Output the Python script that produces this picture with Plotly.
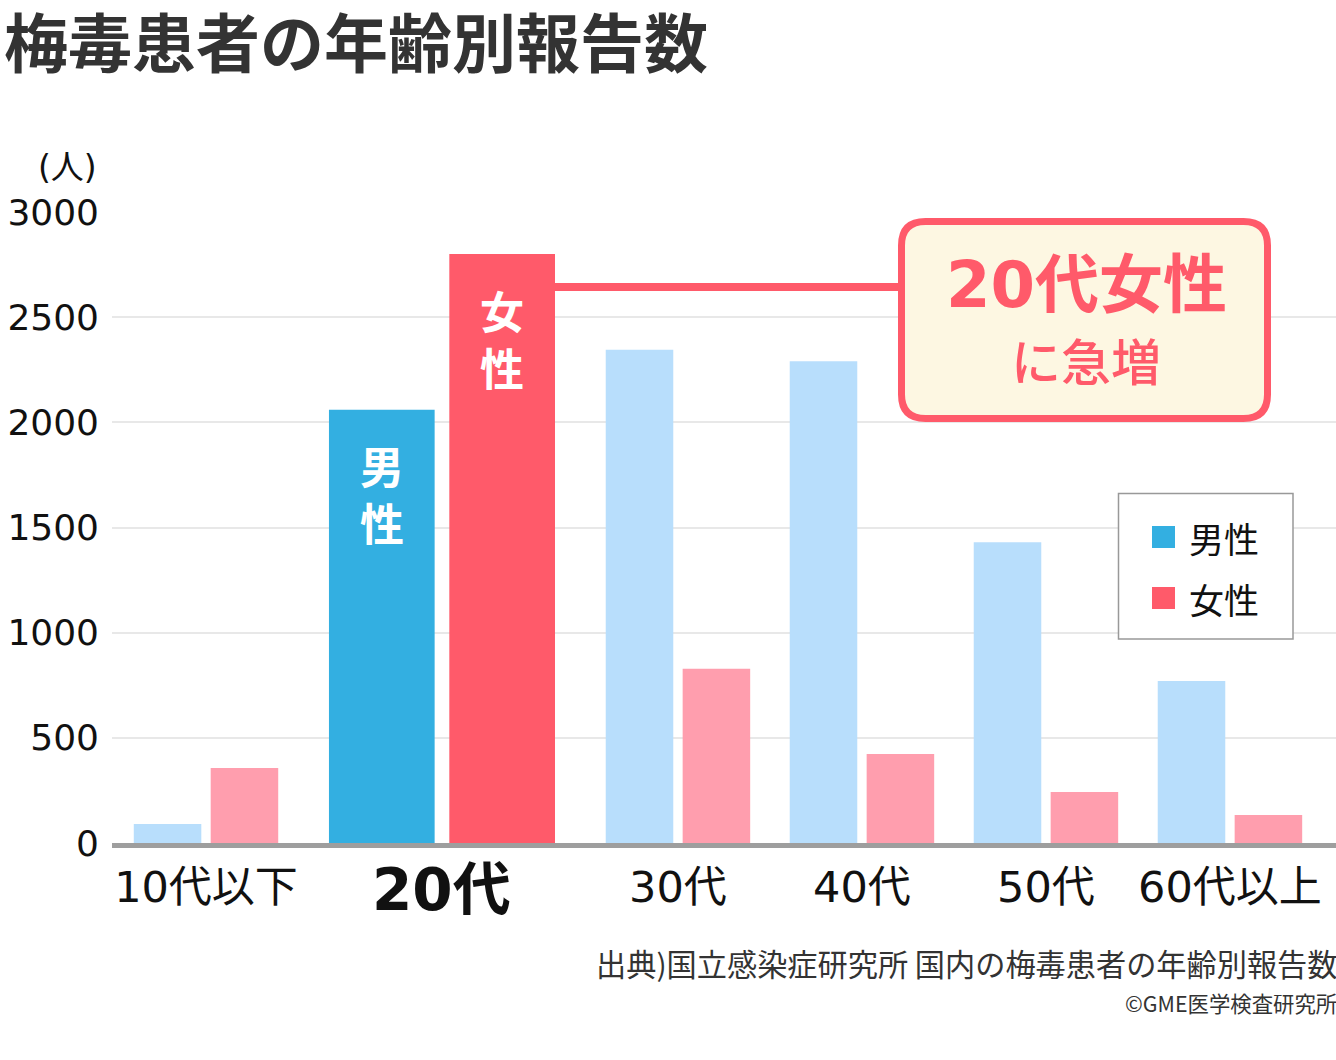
import plotly.graph_objects as go

# ---------------- data ----------------
categories = ["10代以下", "20代", "30代", "40代", "50代", "60代以上"]
male = [90, 2060, 2345, 2290, 1430, 770]
female = [357, 2800, 828, 423, 243, 133]
highlight = "20代"
series_names = ["男性", "女性"]
y_ticks = [0, 500, 1000, 1500, 2000, 2500, 3000]
title_text = "梅毒患者の年齢別報告数"
unit_text = "(人)"
callout_main = "20代女性"
callout_sub = "に急増"
source_text = "出典)国立感染症研究所 国内の梅毒患者の年齢別報告数"
credit_text = "©GME医学検査研究所"

# ---------------- styling ----------------
FONT = "Noto Sans CJK JP"
NUMFONT = "DejaVu Sans, Noto Sans CJK JP"
W, H = 1336, 1060
L, R, T, B = 112, 0, 212, 217
PW, PH = W - L - R, H - T - B

MALE_HI, FEMALE_HI = "#33AFE1", "#FF5A6A"
MALE_LO, FEMALE_LO = "#B8DEFC", "#FF9EAE"

# group spans (highlighted group is wider)
spans = [1.565 if c == highlight else 1.0 for c in categories]
centers = []
pos = 0.0
for i, s in enumerate(spans):
    if i > 0:
        pos += (spans[i - 1] + s) / 2
    centers.append(pos)
UNIT_PX = 184.0
xmin = -(206 - L) / UNIT_PX
xmax = xmin + PW / UNIT_PX

bar_w = [0.367 * s for s in spans]
bar_off = [0.209 * s for s in spans]
male_x = [c - o for c, o in zip(centers, bar_off)]
female_x = [c + o for c, o in zip(centers, bar_off)]
male_col = [MALE_HI if c == highlight else MALE_LO for c in categories]
female_col = [FEMALE_HI if c == highlight else FEMALE_LO for c in categories]


def px(xp):
    return (xp - L) / PW


def py(yp):
    return (H - B - yp) / PH


def data_to_px(xd):
    return L + (xd - xmin) / (xmax - xmin) * PW


fig = go.Figure()
fig.add_trace(go.Bar(x=male_x, y=male, width=bar_w, offset=[-w / 2 for w in bar_w],
                     marker=dict(color=male_col, line=dict(width=0)), name=series_names[0],
                     showlegend=False, hoverinfo="skip"))
fig.add_trace(go.Bar(x=female_x, y=female, width=bar_w, offset=[-w / 2 for w in bar_w],
                     marker=dict(color=female_col, line=dict(width=0)), name=series_names[1],
                     showlegend=False, hoverinfo="skip"))

hi = categories.index(highlight)
ticktext = ["" if c == highlight else c for c in categories]

annotations = []
shapes = []

# highlighted category label (larger, bold)
annotations.append(dict(x=centers[hi], y=py(890), xref="x", yref="paper", text=f"<b>{highlight}</b>",
                        showarrow=False, xanchor="center", yanchor="middle",
                        font=dict(family=NUMFONT, size=58, color="#111")))

# vertical labels inside highlighted bars
for xs, vals, name in [(male_x, male, series_names[0]), (female_x, female, series_names[1])]:
    annotations.append(dict(x=xs[hi], y=vals[hi], xref="x", yref="y", text="<b>" + "<br>".join(name) + "</b>",
                            showarrow=False, yanchor="middle", xanchor="center", yshift=-84,
                            font=dict(family=FONT, size=44, color="white")))

# connector line from highlighted female bar to callout box
bar_right_px = data_to_px(female_x[hi] + bar_w[hi] / 2)
shapes.append(dict(type="line", xref="paper", yref="paper", x0=px(bar_right_px), x1=px(902),
                   y0=py(287), y1=py(287), line=dict(color=FEMALE_HI, width=8), layer="above"))

# callout rounded box
x0, x1, y0, y1, r = 901.5, 1267.5, 221.5, 418.5, 24
path = (f"M {px(x0 + r)},{py(y0)} L {px(x1 - r)},{py(y0)} Q {px(x1)},{py(y0)} {px(x1)},{py(y0 + r)} "
        f"L {px(x1)},{py(y1 - r)} Q {px(x1)},{py(y1)} {px(x1 - r)},{py(y1)} "
        f"L {px(x0 + r)},{py(y1)} Q {px(x0)},{py(y1)} {px(x0)},{py(y1 - r)} "
        f"L {px(x0)},{py(y0 + r)} Q {px(x0)},{py(y0)} {px(x0 + r)},{py(y0)} Z")
shapes.append(dict(type="path", xref="paper", yref="paper", path=path, fillcolor="#FDF7E2",
                   line=dict(color=FEMALE_HI, width=7), layer="above"))
annotations.append(dict(x=px(1086), y=py(285), xref="paper", yref="paper", text=f"<b>{callout_main}</b>",
                        showarrow=False, xanchor="center", yanchor="middle",
                        font=dict(family=NUMFONT, size=64, color=FEMALE_HI)))
annotations.append(dict(x=px(1086), y=py(359), xref="paper", yref="paper", text=callout_sub,
                        showarrow=False, xanchor="center", yanchor="middle",
                        font=dict(family=FONT, size=50, color=FEMALE_HI, weight=500)))

# manual legend
shapes.append(dict(type="rect", xref="paper", yref="paper", x0=px(1118.5), x1=px(1293), y0=py(493.5), y1=py(639),
                   fillcolor="white", line=dict(color="#999999", width=1.5), layer="above"))
for nm, col, yc in [(series_names[0], MALE_HI, 537), (series_names[1], FEMALE_HI, 598)]:
    shapes.append(dict(type="rect", xref="paper", yref="paper", x0=px(1152), x1=px(1175),
                       y0=py(yc - 11), y1=py(yc + 11), fillcolor=col, line=dict(width=0), layer="above"))
    annotations.append(dict(x=px(1187), y=py(yc), xref="paper", yref="paper", text=nm, showarrow=False,
                            xanchor="left", yanchor="middle", font=dict(family=FONT, size=35, color="#111")))

# unit label
annotations.append(dict(x=px(99), y=py(167), xref="paper", yref="paper", text=unit_text, showarrow=False,
                        xanchor="right", yanchor="middle", font=dict(family=NUMFONT, size=33, color="#111")))
# source + credit
annotations.append(dict(x=1, y=py(963), xref="paper", yref="paper", text=source_text, showarrow=False,
                        xanchor="right", yanchor="middle", xshift=3,
                        font=dict(family=FONT, size=30.2, color="#333")))
annotations.append(dict(x=1, y=py(1002), xref="paper", yref="paper", text=credit_text, showarrow=False,
                        xanchor="right", yanchor="middle", xshift=3,
                        font=dict(family=FONT, size=21.4, color="#333")))

fig.update_layout(
    width=W, height=H,
    margin=dict(l=L, r=R, t=T, b=B, pad=0),
    paper_bgcolor="white", plot_bgcolor="white",
    barmode="overlay",
    showlegend=False,
    title=dict(text=title_text, x=0.003, xanchor="left", xref="container",
               y=1 - 45 / H, yanchor="middle", yref="container",
               font=dict(family=FONT, size=64, color="#333333", weight=700)),
    xaxis=dict(range=[xmin, xmax], tickmode="array", tickvals=centers, ticktext=ticktext,
               tickfont=dict(family=NUMFONT, size=43, color="#111"), showgrid=False, zeroline=False,
               showline=True, linecolor="#9E9E9E", linewidth=5, ticks="", ticklabelstandoff=2,
               fixedrange=True),
    yaxis=dict(range=[0, 3000], tickmode="array", tickvals=y_ticks, ticktext=[str(v) for v in y_ticks],
               tickfont=dict(family=NUMFONT, size=36, color="#111"), showgrid=True, gridcolor="#E8E8E8",
               gridwidth=2, zeroline=False, showline=False, ticks="", ticklabelstandoff=12,
               fixedrange=True),
    shapes=shapes,
    annotations=annotations,
)

fig.write_html("out.html", config=dict(displayModeBar=False),
               post_script="document.body.style.margin='0px';document.body.style.overflow='hidden';")
